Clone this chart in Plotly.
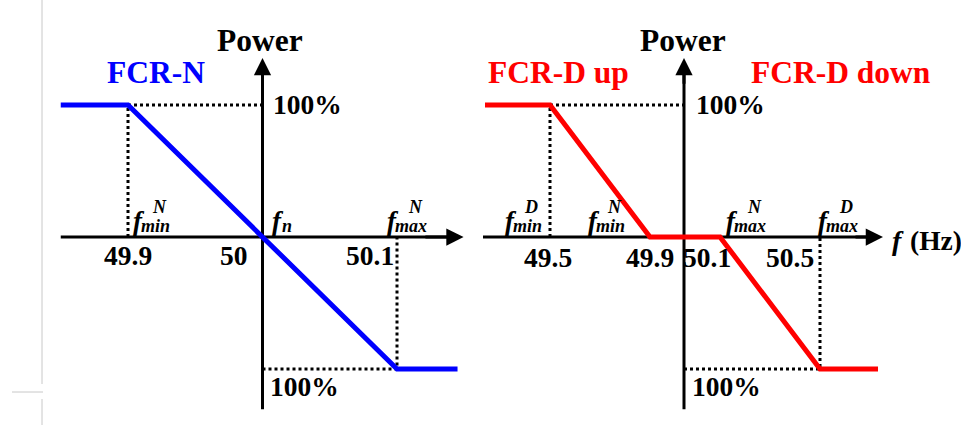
import numpy as np
import plotly.graph_objects as go

W, H = 961, 425

# ---------------- data ----------------
# FCR-N: power response vs frequency (Hz, %)
fcrn_freq = [49.85, 49.9, 50.1, 50.145]
fcrn_power = [100, 100, -100, -100]
fcrn_tick_freq = [49.9, 50.0, 50.1]
fcrn_tick_text = ["49.9", "50", "50.1"]

# FCR-D: up / down response vs frequency (Hz, %)
fcrd_freq = [49.3, 49.5, 49.9, 50.1, 50.5, 50.7]
fcrd_power = [100, 100, 0, 0, -100, -100]
fcrd_tick_freq = [49.5, 49.9, 50.1, 50.5]
fcrd_tick_text = ["49.5", "49.9", "50.1", "50.5"]

# right panel is a not-to-scale schematic: frequency -> schematic axis position
fcrd_scale_freq = [49.3, 49.5, 49.9, 50.0, 50.1, 50.5, 50.7]
fcrd_scale_pos = [-1.99, -1.34, -0.34, 0.0, 0.36, 1.36, 1.94]


def sch(f):
    return np.interp(f, fcrd_scale_freq, fcrd_scale_pos)


def px(x):
    return x / W


def py(y):
    return 1 - y / H


FONT = "Liberation Serif"
BLUE = "#0000FF"
RED = "#FF0000"

fig = go.Figure()

# dotted guide lines
dot = dict(color="black", width=3, dash="dot")
fig.add_trace(go.Scatter(x=[49.9, 49.9, 50.0], y=[0, 100, 100], mode="lines",
                         line=dot, xaxis="x", yaxis="y", hoverinfo="skip"))
fig.add_trace(go.Scatter(x=[50.0, 50.1, 50.1], y=[-100, -100, 0], mode="lines",
                         line=dot, xaxis="x", yaxis="y", hoverinfo="skip"))
fig.add_trace(go.Scatter(x=sch([49.5, 49.5, 50.0]), y=[0, 100, 100], mode="lines",
                         line=dot, xaxis="x2", yaxis="y", hoverinfo="skip"))
fig.add_trace(go.Scatter(x=sch([50.0, 50.5, 50.5]), y=[-100, -100, 0], mode="lines",
                         line=dot, xaxis="x2", yaxis="y", hoverinfo="skip"))

# response curves
fig.add_trace(go.Scatter(x=fcrn_freq, y=fcrn_power, mode="lines",
                         line=dict(color=BLUE, width=5), xaxis="x", yaxis="y"))
fig.add_trace(go.Scatter(x=sch(fcrd_freq), y=fcrd_power, mode="lines",
                         line=dict(color=RED, width=5), xaxis="x2", yaxis="y"))

shapes = []
ax_line = dict(color="black", width=3)
# left axes
shapes.append(dict(type="line", xref="x", yref="y", x0=49.85, x1=50.14, y0=0, y1=0,
                   line=ax_line, layer="below"))
shapes.append(dict(type="line", xref="x", yref="y", x0=50.0, x1=50.0, y0=-130.5, y1=128,
                   line=ax_line, layer="below"))
# right axes
shapes.append(dict(type="line", xref="x2", yref="y", x0=-2.01, x1=1.9, y0=0, y1=0,
                   line=ax_line, layer="below"))
shapes.append(dict(type="line", xref="x2", yref="y", x0=0.0, x1=0.0, y0=-130.5, y1=128,
                   line=ax_line, layer="below"))
# faint border artifacts
grey = dict(color="#c8c8c8", width=1)
shapes.append(dict(type="line", xref="paper", yref="paper", x0=px(42), x1=px(42),
                   y0=py(0), y1=py(384), line=grey))
shapes.append(dict(type="line", xref="paper", yref="paper", x0=px(42), x1=px(42),
                   y0=py(399), y1=py(425), line=grey))
shapes.append(dict(type="line", xref="paper", yref="paper", x0=px(12), x1=px(43),
                   y0=py(392), y1=py(392), line=grey))

ann = []


def arrow(xref, x, y, ax, ay):
    ann.append(dict(xref=xref, yref="y", axref=xref, ayref="y", x=x, y=y, ax=ax, ay=ay,
                    text="", showarrow=True, arrowhead=2, arrowsize=1.15,
                    arrowwidth=3, arrowcolor="black", standoff=0))


arrow("x", 50.1495, 0, 50.12, 0)
arrow("x", 50.0, 135.6, 50.0, 115)
arrow("x2", 1.99, 0, 1.7, 0)
arrow("x2", 0.0, 135.6, 0.0, 115)


def text(x, y, s, size, color="black", xanchor="center"):
    ann.append(dict(xref="paper", yref="paper", x=px(x), y=py(y), text=s,
                    showarrow=False, xanchor=xanchor, yanchor="middle",
                    font=dict(family=FONT, size=size, color=color)))


# titles
text(260, 40, "<b>Power</b>", 31.5)
text(683, 40, "<b>Power</b>", 31.5)
text(156, 72, "<b>FCR-N</b>", 31.5, BLUE)
text(558, 72, "<b>FCR-D up</b>", 31.5, RED)
text(841, 72, "<b>FCR-D down</b>", 31.5, RED)

# 100% labels
text(307, 104, "<b>100%</b>", 27.5)
text(730, 104, "<b>100%</b>", 27.5)
text(304, 386, "<b>100%</b>", 27.5)
text(726, 386, "<b>100%</b>", 27.5)

# tick labels
for t, xc in zip(fcrn_tick_text, [128, 234, 370]):
    text(xc, 256, "<b>" + t + "</b>", 27.5)
for t, xc in zip(fcrd_tick_text, [548, 650, 707, 790]):
    text(xc, 257, "<b>" + t + "</b>", 27.5)


def flabel(xf, sub, sup):
    text(xf, 221, "<b><i>f</i></b>", 27)
    off = 16 if sub == "min" else 18
    if sub == "n":
        off = 9
    text(xf + off, 226, "<b><i>" + sub + "</i></b>", 18)
    if sup:
        text(xf + off + 4, 207, "<b><i>" + sup + "</i></b>", 18)


flabel(139, "min", "N")
flabel(278, "n", None)
flabel(393, "max", "N")
flabel(511, "min", "D")
flabel(594, "min", "N")
flabel(732, "max", "N")
flabel(824, "max", "D")

# frequency axis title
text(898, 241, "<b><i>f</i></b>", 28)
text(908, 240, "<b>(Hz)</b>", 27.5, xanchor="left")

fig.update_layout(
    width=W, height=H,
    margin=dict(l=0, r=0, t=0, b=0),
    paper_bgcolor="white", plot_bgcolor="white",
    showlegend=False,
    xaxis=dict(domain=[0, 480 / W], range=[50 - 262.5 / 1345, 50 + (480 - 262.5) / 1345],
               visible=False, anchor="y"),
    xaxis2=dict(domain=[480 / W, 1], range=[-2.04, 2.77], visible=False, anchor="y"),
    yaxis=dict(range=[-(H - 237) / 1.32, 237 / 1.32], visible=False),
    shapes=shapes,
    annotations=ann,
)

fig.write_html("out.html")
